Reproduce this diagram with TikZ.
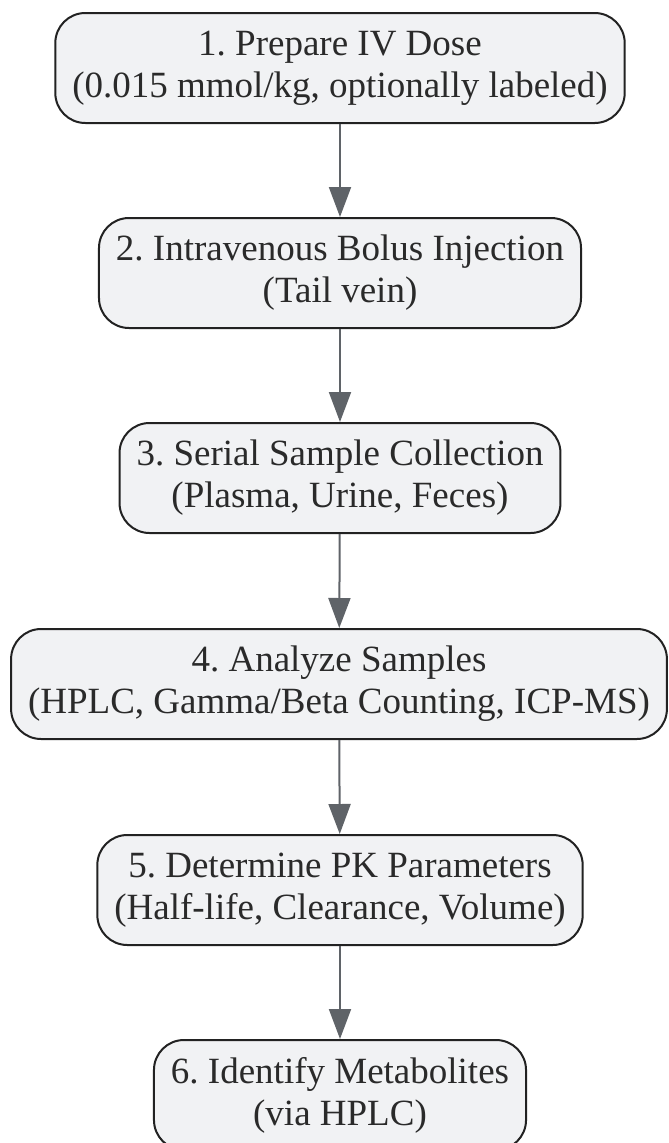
\documentclass[tikz,border=0pt]{standalone}
\usepackage{fontspec}
\setmainfont{Liberation Serif}
\usetikzlibrary{arrows.meta}
\definecolor{boxfill}{HTML}{F1F2F4}
\definecolor{boxline}{HTML}{222222}
\definecolor{arrowgray}{HTML}{5F6368}
\definecolor{textdark}{HTML}{2A2A2A}
\frenchspacing
\begin{document}
\begin{tikzpicture}[x=1pt,y=-1pt,
  stepbox/.style={draw=boxline,line width=2pt,fill=boxfill,rounded corners=30pt,
    align=center,minimum height=110pt,inner xsep=17pt,text=textdark,
    font=\fontsize{37}{42}\selectfont},
  flow/.style={draw=arrowgray,line width=2pt,-{Triangle[length=30pt,width=22pt]}}]
\useasboundingbox (0,0) rectangle (669,1143);
\node[stepbox] (dose) at (340,68) {1. Prepare IV Dose\\(0.015 mmol/kg, optionally labeled)};
\node[stepbox] (inject) at (340,273) {2. Intravenous Bolus Injection\\(Tail vein)};
\node[stepbox] (sample) at (340,478) {3. Serial Sample Collection\\(Plasma, Urine, Feces)};
\node[stepbox] (analyze) at (339,684) {4. Analyze Samples\\(HPLC, Gamma/Beta Counting, ICP-MS)};
\node[stepbox] (pk) at (340,890) {5. Determine PK Parameters\\(Half-life, Clearance, Volume)};
\node[stepbox] (metab) at (340,1095) {6. Identify Metabolites\\(via HPLC)};
\draw[flow] (dose) -- (inject);
\draw[flow] (inject) -- (sample);
\draw[flow] (sample) -- (analyze);
\draw[flow] (analyze) -- (pk);
\draw[flow] (pk) -- (metab);
\end{tikzpicture}
\end{document}
